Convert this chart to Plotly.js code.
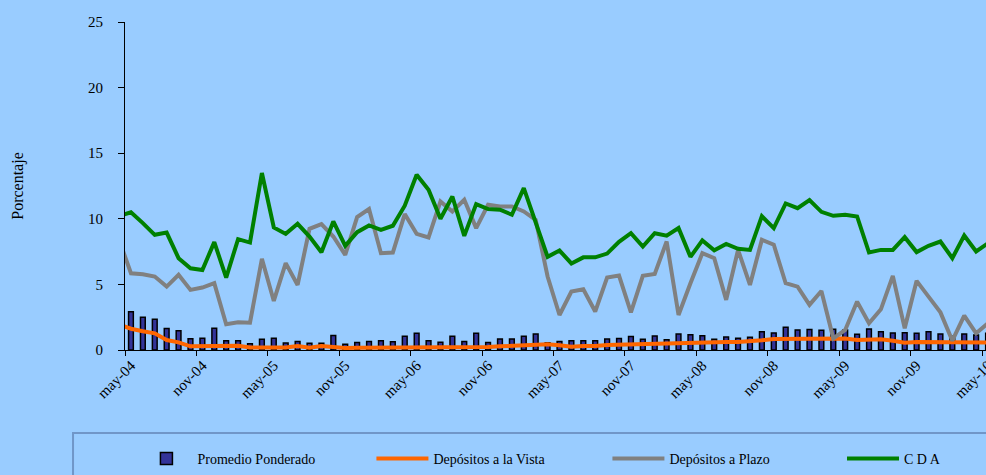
<!DOCTYPE html>
<html>
<head>
<meta charset="utf-8">
<script src="https://cdn.plot.ly/plotly-3.0.1.min.js"></script>
<style>
  html, body { margin: 0; padding: 0; overflow: hidden; background: #99CCFF; }
  #chart { width: 1150px; height: 475px; }
</style>
</head>
<body>
<div id="chart"></div>
<script>
// Month labels: abr-04 (only the lines start there, clipped at the axis) to may-10
const monthNames = ["ene","feb","mar","abr","may","jun","jul","ago","sep","oct","nov","dic"];
const months = [];
for (let k = 0; k < 74; k++) {
  const m = (3 + k) % 12;
  const y = 4 + Math.floor((3 + k) / 12);
  months.push(monthNames[m] + "-" + String(y).padStart(2, "0"));
}

// Promedio Ponderado (bars), may-04 .. may-10
const promedio = [2.92,2.49,2.34,1.63,1.47,0.86,0.89,1.65,0.71,0.71,0.48,0.81,
  0.89,0.53,0.65,0.51,0.51,1.10,0.43,0.57,0.65,0.70,0.62,1.05,
  1.28,0.70,0.60,1.05,0.65,1.28,0.57,0.84,0.84,1.05,1.22,0.56,
  0.64,0.71,0.71,0.71,0.83,0.88,1.02,0.82,1.07,0.78,1.22,1.17,
  1.08,0.82,0.99,0.90,0.98,1.40,1.30,1.74,1.53,1.56,1.50,1.58,
  1.53,1.20,1.60,1.40,1.30,1.32,1.27,1.40,1.22,1.05,1.22,1.15,1.27];

// Lines, abr-04 .. may-10
const vista = [1.94,1.62,1.43,1.27,0.76,0.58,0.28,0.28,0.33,0.28,0.33,0.20,0.18,
  0.18,0.20,0.30,0.18,0.30,0.20,0.15,0.18,0.18,0.18,0.16,0.16,
  0.15,0.16,0.18,0.18,0.20,0.20,0.22,0.28,0.30,0.36,0.40,0.43,
  0.36,0.25,0.30,0.30,0.38,0.41,0.43,0.46,0.48,0.48,0.51,0.56,
  0.59,0.59,0.61,0.61,0.66,0.74,0.84,0.84,0.87,0.87,0.89,0.89,
  0.87,0.76,0.79,0.81,0.71,0.56,0.61,0.61,0.61,0.64,0.59,0.59,0.58];

const plazo = [8.40,5.85,5.78,5.60,4.83,5.73,4.58,4.76,5.09,1.96,2.11,2.08,6.95,
  3.74,6.62,4.96,9.24,9.59,8.65,7.25,10.13,10.74,7.38,7.43,10.36,
  8.85,8.58,11.32,10.56,11.45,9.29,11.07,10.94,10.94,10.56,9.92,5.60,
  2.67,4.45,4.63,2.93,5.52,5.67,2.87,5.65,5.80,8.27,2.67,5.09,
  7.38,7.00,3.82,7.63,4.96,8.40,8.02,5.09,4.83,3.44,4.50,0.89,
  1.53,3.69,2.04,3.10,5.65,1.65,5.27,4.07,2.87,0.71,2.62,1.27,2.04];

const cda = [10.20,10.50,9.67,8.78,8.95,7.00,6.23,6.10,8.22,5.52,8.45,8.19,13.49,
  9.34,8.85,9.62,8.65,7.45,9.80,7.94,8.98,9.49,9.16,9.47,11.00,
  13.36,12.21,10.00,11.70,8.70,11.12,10.74,10.69,10.31,12.34,9.80,7.10,
  7.58,6.60,7.06,7.06,7.35,8.25,8.90,7.89,8.90,8.72,9.30,7.10,
  8.35,7.60,8.08,7.71,7.63,10.20,9.29,11.17,10.81,11.42,10.53,10.23,
  10.31,10.18,7.43,7.63,7.63,8.60,7.46,7.94,8.27,7.00,8.73,7.51,8.14];

const yTicks = [0, 5, 10, 15, 20, 25];

const xLine = months.map((_, i) => i - 1);
const xBar = xLine.slice(1);
const labelIdx = xBar.filter(v => v % 6 === 0);
const labelText = labelIdx.map(v => months[v + 1]);

const serif = "Liberation Serif, Times New Roman, serif";

const traces = [
  { type: "bar", name: "Promedio Ponderado", x: xBar, y: promedio, width: 0.4,
    marker: { color: "#333399", line: { color: "#000000", width: 1.5 } } },
  { type: "scatter", mode: "lines", name: "Depósitos a la Vista", x: xLine, y: vista,
    line: { color: "#FF6600", width: 4 } },
  { type: "scatter", mode: "lines", name: "Depósitos a Plazo", x: xLine, y: plazo,
    line: { color: "#808080", width: 4 } },
  { type: "scatter", mode: "lines", name: "C D A", x: xLine, y: cda, legend: "legend2",
    line: { color: "#008000", width: 4 } }
];

const legendCommon = {
  orientation: "h", xanchor: "left", yanchor: "middle",
  bgcolor: "rgba(0,0,0,0)", borderwidth: 0,
  entrywidth: 169, entrywidthmode: "pixels", itemwidth: 52,
  font: { family: serif, size: 14, color: "#000000" },
  traceorder: "normal"
};

const layout = {
  width: 1150, height: 475,
  paper_bgcolor: "#99CCFF", plot_bgcolor: "#99CCFF",
  margin: { l: 125, r: 156, t: 22, b: 125, autoexpand: false },
  font: { family: serif, color: "#000000" },
  showlegend: true,
  bargap: 0,
  xaxis: {
    range: [-0.5, 72.5], showgrid: false, zeroline: false,
    showline: true, linecolor: "#000000", linewidth: 1,
    tickmode: "array", tickvals: labelIdx, ticktext: labelText,
    ticks: "", tickangle: -45,
    tickfont: { family: serif, size: 15, color: "#000000" },
    minor: { tickmode: "linear", tick0: -0.5, dtick: 6, ticks: "outside", ticklen: 5,
             tickcolor: "#000000", tickwidth: 1, showgrid: false }
  },
  yaxis: {
    range: [0, 25], showgrid: false, zeroline: false,
    showline: true, linecolor: "#000000", linewidth: 1,
    tickmode: "array", tickvals: yTicks,
    ticks: "outside", ticklen: 6, tickcolor: "#000000",
    ticklabelstandoff: 12,
    tickfont: { family: serif, size: 15, color: "#000000" },
    title: { text: "Porcentaje", font: { family: serif, size: 16, color: "#000000" }, standoff: 60 }
  },
  legend: Object.assign({}, legendCommon, { x: 0.012, y: -0.332 }),
  legend2: Object.assign({}, legendCommon, { x: 0.8251, y: -0.332 }),
  shapes: [
    { type: "rect", xref: "paper", yref: "paper",
      x0: -0.0598, x1: 1.2, y0: -0.253, y1: -0.6,
      line: { color: "#7096C8", width: 2 }, fillcolor: "rgba(0,0,0,0)", layer: "below" }
  ]
};

Plotly.newPlot("chart", traces, layout, { displayModeBar: false, staticPlot: true });
</script>
</body>
</html>
